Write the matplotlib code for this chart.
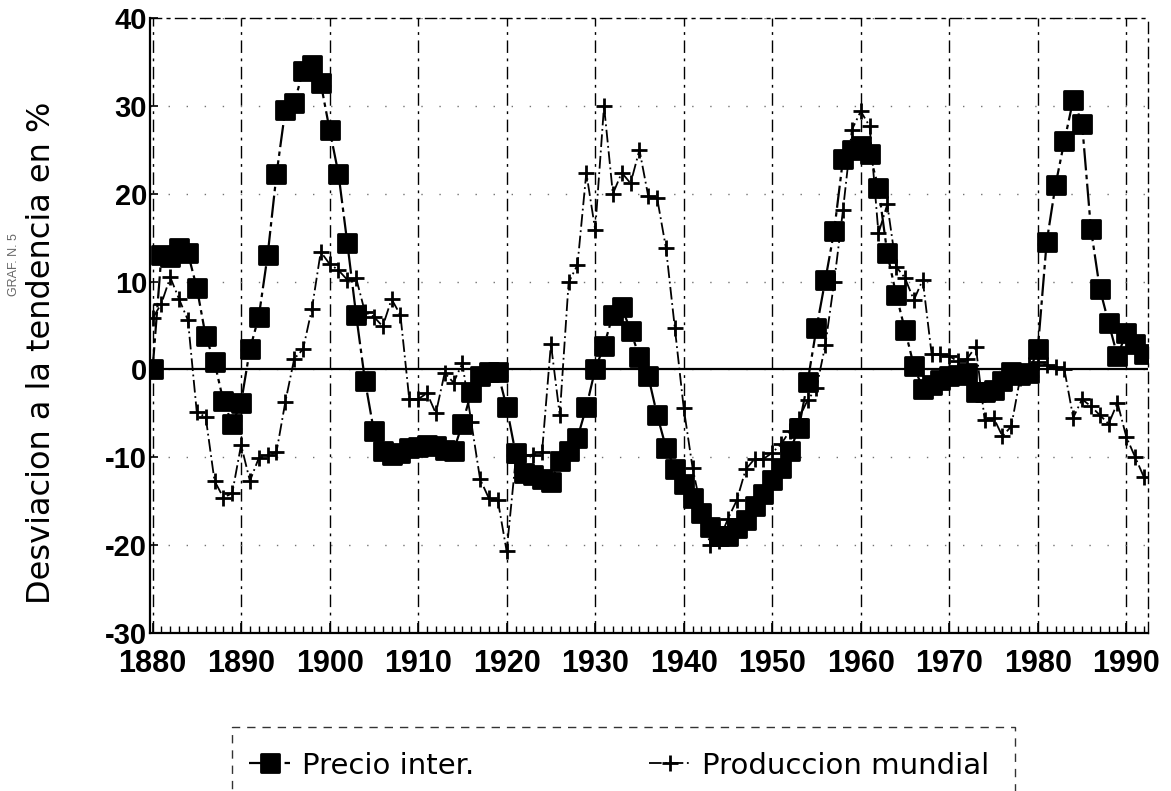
import numpy as np
import matplotlib
matplotlib.use("Agg")
import matplotlib.pyplot as plt
from matplotlib.markers import MarkerStyle
from matplotlib.patches import Rectangle
from matplotlib.ticker import MultipleLocator

plt.rcParams['font.family'] = ['Liberation Sans', 'DejaVu Sans']
plt.rcParams['axes.unicode_minus'] = False

# one value per year, 1880 .. 1992
years = np.arange(1880, 1993)

precio = [
    0, 13, 12.8, 13.8, 13.2, 9.3, 3.8, 0.8, -3.6, -6.2,            # 1880s
    -3.8, 2.3, 6, 13, 22.2, 29.6, 30.3, 34, 34.7, 32.6,            # 1890s
    27.3, 22.3, 14.4, 6.2, -1.3, -7, -9.3, -9.8, -9.5, -9,          # 1900s
    -8.8, -8.6, -8.7, -9.2, -9.3, -6.2, -2.6, -0.8, -0.3, -0.3,     # 1910s
    -4.3, -9.5, -11.8, -12, -12.5, -12.8, -10.4, -9.3, -7.8, -4.3,  # 1920s
    0, 2.7, 6.2, 7.1, 4.4, 1.4, -0.8, -5.2, -8.9, -11.3,            # 1930s
    -13, -14.7, -16.3, -17.9, -19, -19, -18.1, -17.2, -15.6, -14.2, # 1940s
    -12.6, -11.2, -9.3, -6.7, -1.4, 4.7, 10.2, 15.8, 24, 25,        # 1950s
    25.4, 24.5, 20.7, 13.2, 8.5, 4.5, 0.4, -2.2, -1.8, -1.2,        # 1960s
    -0.8, -0.6, -0.4, -2.6, -2.6, -2.4, -1.3, -0.3, -0.6, -0.4,     # 1970s
    2.3, 14.5, 21, 26, 30.7, 28, 16, 9.2, 5.3, 1.5,                 # 1980s
    4.2, 2.9, 1.8,                                                  # 1990-92
]

produccion = [
    5.8, 7.5, 10.5, 8, 5.6, -4.9, -5.4, -12.7, -14.6, -14.1,
    -8.6, -12.7, -10.1, -9.8, -9.4, -3.7, 1.2, 2.3, 6.9, 13.4,
    12, 11.3, 10.2, 10.4, 6.5, 6, 4.9, 8, 6.2, -3.4,
    -3.4, -2.7, -5, -0.4, -1.5, 0.7, -6, -12.5, -14.7, -14.9,
    -20.7, -10.5, -9.8, -9.7, -9.4, 2.9, -5.2, 9.9, 11.9, 22.4,
    15.9, 30, 20, 22.4, 21.2, 25, 19.7, 19.5, 13.8, 4.7,
    -4.4, -11.2, -16, -20, -19.5, -17, -14.9, -11.4, -10.2, -10.2,
    -9.5, -8.5, -7, -5.6, -3.5, -2.1, 2.8, 10, 18.2, 27.3,
    29.4, 27.7, 15.5, 18.8, 11.7, 10.4, 7.9, 10.2, 1.8, 1.7,
    1.5, 0.9, 1.2, 2.6, -5.8, -5.5, -7.6, -6.5, -1, 0.5,
    0.8, 0.5, 0.3, 0, -5.5, -3.4, -4.2, -5.2, -6.2, -3.8,
    -7.7, -10, -12.3,
]

fig = plt.figure(figsize=(11.71, 7.91), dpi=100)
ax = fig.add_axes([0.128, 0.2, 0.852, 0.777])

sq = MarkerStyle('s', joinstyle='round')
ax.plot(years, precio, color='k', lw=1.6, ls=(0, (10, 2, 2, 2)),
        marker=sq, ms=13.5, mfc='k', mec='k', mew=2, label='Precio inter.', zorder=3)
ax.plot(years, produccion, color='k', lw=1.3, ls=(0, (7, 2, 1, 2)),
        marker='+', ms=12, mew=2, label='Produccion mundial', zorder=4)

ax.axhline(0, color='k', lw=1.6, zorder=2)

ax.set_xlim(1879.7, 1992.4)
ax.set_ylim(-30, 40)
ax.xaxis.set_major_locator(MultipleLocator(10))
ax.xaxis.set_minor_locator(MultipleLocator(1))
ax.yaxis.set_major_locator(MultipleLocator(10))

ax.grid(axis='x', which='major', color='k', lw=1, ls=(0, (9, 4, 2, 4)))
ax.grid(axis='y', which='major', color='0.45', lw=1, ls=(0, (1, 12)))

ax.tick_params(axis='x', which='major', direction='in', length=7, width=1.2,
               labelsize=22, pad=12)
ax.tick_params(axis='x', which='minor', direction='in', length=5, width=1)
ax.tick_params(axis='y', direction='in', length=6, width=1.2, labelsize=21, pad=2)
for lab in ax.get_xticklabels() + ax.get_yticklabels():
    lab.set_fontweight('bold')

for side in ['top', 'right']:
    ax.spines[side].set_linestyle((0, (8, 4, 2, 4)))
    ax.spines[side].set_linewidth(1)
ax.spines['left'].set_linewidth(1.6)
ax.spines['bottom'].set_linewidth(1.6)

ax.set_ylabel('Desviacion a la tendencia en %', fontsize=23, family='DejaVu Sans')
ax.yaxis.set_label_coords(-0.093, 0.455)
fig.text(0.012, 0.665, 'GRAF. N. 5', rotation=90, fontsize=9, color='0.4',
         ha='center', va='center')

# legend box below the plot, dashed frame running past the bottom edge
fig.patches.append(Rectangle((0.198, -0.02), 0.6687, 0.1009, transform=fig.transFigure,
                             fill=False, edgecolor='0.2', lw=1, ls=(0, (6, 5))))
leg = fig.legend(loc='center left', bbox_to_anchor=(0.213, 0.032), ncol=2,
                 frameon=False, prop={'family': 'DejaVu Sans', 'size': 21},
                 handlelength=1.4, handletextpad=0.4, columnspacing=6.0,
                 borderpad=0, borderaxespad=0)

fig.savefig('out.png', dpi=100)
